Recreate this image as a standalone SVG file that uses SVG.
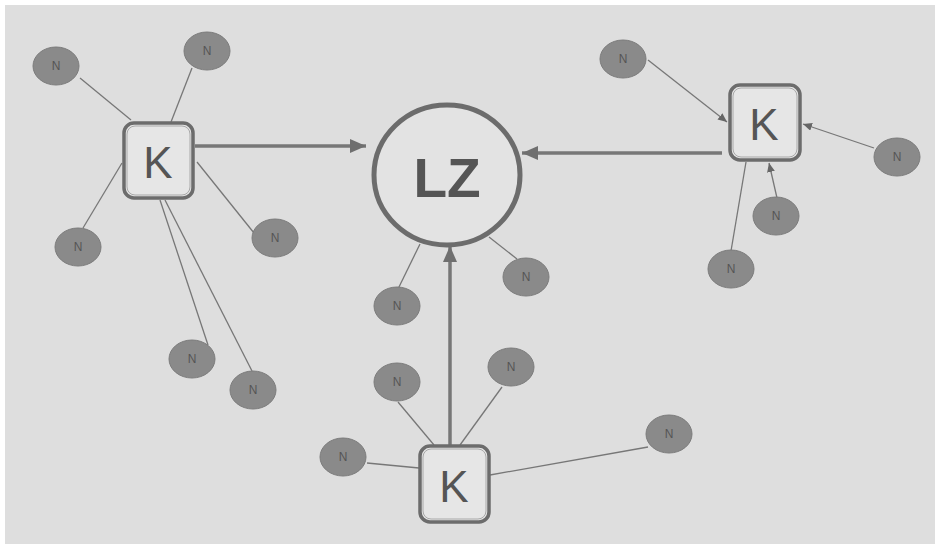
<svg xmlns="http://www.w3.org/2000/svg" width="937" height="544" viewBox="0 0 937 544">
<style>
.bg{fill:#dedede}
.n ellipse{fill:#8a8a8a;stroke:#7c7c7c;stroke-width:1}
.n text{font-family:"Liberation Sans",Arial,sans-serif;font-size:12px;fill:#555;text-anchor:middle;dominant-baseline:central}
.k rect.o{fill:#e6e6e6;stroke:#6c6c6c;stroke-width:3.5}
.k rect.i{fill:none;stroke:#a8a8a8;stroke-width:1}
.k text{font-family:"Liberation Sans",Arial,sans-serif;font-size:44px;fill:#555;text-anchor:middle;dominant-baseline:central}
.lz ellipse{fill:#e3e3e3;stroke:#6c6c6c;stroke-width:5}
.lz text{font-family:"Liberation Sans",Arial,sans-serif;font-size:55px;font-weight:bold;fill:#555;text-anchor:middle;dominant-baseline:central}
.thin{stroke:#777;stroke-width:1.3;fill:none}
.thick{stroke:#777;stroke-width:3.5;fill:none}
</style>
<defs>
<marker id="big" markerUnits="userSpaceOnUse" markerWidth="18" markerHeight="14" refX="16" refY="7" orient="auto">
<path d="M0,0 L16,7 L0,14 Z" fill="#6f6f6f"/>
</marker>
<marker id="small" markerUnits="userSpaceOnUse" markerWidth="10" markerHeight="8" refX="9" refY="4" orient="auto">
<path d="M0,0 L9,4 L0,8 Z" fill="#666"/>
</marker>
</defs>
<rect class="bg" x="5" y="5" width="930" height="539"/>
<g id="connectors">
<line class="thin" x1="80" y1="78" x2="131" y2="120"/>
<line class="thin" x1="192" y1="68" x2="171" y2="122"/>
<line class="thin" x1="83" y1="228" x2="122" y2="163"/>
<line class="thin" x1="197" y1="162" x2="254" y2="233"/>
<line class="thin" x1="160" y1="200" x2="208" y2="345"/>
<line class="thin" x1="165" y1="200" x2="252" y2="371"/>
<line class="thin" x1="398" y1="289" x2="420" y2="244"/>
<line class="thin" x1="517" y1="259" x2="489" y2="237"/>
<line class="thin" x1="648" y1="60" x2="727" y2="122" marker-end="url(#small)"/>
<line class="thin" x1="874" y1="148" x2="803" y2="124" marker-end="url(#small)"/>
<line class="thin" x1="777" y1="198" x2="769" y2="163" marker-end="url(#small)"/>
<line class="thin" x1="731" y1="251" x2="746" y2="162"/>
<line class="thin" x1="398" y1="402" x2="434" y2="445"/>
<line class="thin" x1="502" y1="387" x2="460" y2="445"/>
<line class="thin" x1="367" y1="463" x2="419" y2="468"/>
<line class="thin" x1="648" y1="447" x2="490" y2="475"/>
<line class="thick" x1="195" y1="146" x2="366" y2="146" marker-end="url(#big)"/>
<line class="thick" x1="722" y1="153" x2="522" y2="153" marker-end="url(#big)"/>
<line class="thick" x1="450" y1="446" x2="450" y2="246" marker-end="url(#big)"/>
</g>
<g id="lz" class="lz"><ellipse cx="447" cy="175" rx="73" ry="70"/><text x="447" y="178">LZ</text></g>
<g id="k1" class="k"><rect class="o" x="124" y="123" width="69" height="75" rx="10"/><rect class="i" x="127" y="126" width="63" height="69" rx="8"/><text x="158" y="162">K</text></g>
<g id="k2" class="k"><rect class="o" x="730" y="85" width="70" height="75" rx="10"/><rect class="i" x="733" y="88" width="64" height="69" rx="8"/><text x="764" y="124">K</text></g>
<g id="k3" class="k"><rect class="o" x="420" y="446" width="69" height="76" rx="10"/><rect class="i" x="423" y="449" width="63" height="70" rx="8"/><text x="454" y="486">K</text></g>
<g id="n1" class="n"><ellipse cx="56" cy="66" rx="23" ry="19"/><text x="56" y="66">N</text></g>
<g id="n2" class="n"><ellipse cx="207" cy="51" rx="23" ry="19"/><text x="207" y="51">N</text></g>
<g id="n3" class="n"><ellipse cx="78" cy="247" rx="23" ry="19"/><text x="78" y="247">N</text></g>
<g id="n4" class="n"><ellipse cx="275" cy="238" rx="23" ry="19"/><text x="275" y="238">N</text></g>
<g id="n5" class="n"><ellipse cx="192" cy="359" rx="23" ry="19"/><text x="192" y="359">N</text></g>
<g id="n6" class="n"><ellipse cx="253" cy="390" rx="23" ry="19"/><text x="253" y="390">N</text></g>
<g id="n7" class="n"><ellipse cx="397" cy="306" rx="23" ry="19"/><text x="397" y="306">N</text></g>
<g id="n8" class="n"><ellipse cx="526" cy="277" rx="23" ry="19"/><text x="526" y="277">N</text></g>
<g id="n9" class="n"><ellipse cx="623" cy="59" rx="23" ry="19"/><text x="623" y="59">N</text></g>
<g id="n10" class="n"><ellipse cx="897" cy="157" rx="23" ry="19"/><text x="897" y="157">N</text></g>
<g id="n11" class="n"><ellipse cx="776" cy="216" rx="23" ry="19"/><text x="776" y="216">N</text></g>
<g id="n12" class="n"><ellipse cx="731" cy="269" rx="23" ry="19"/><text x="731" y="269">N</text></g>
<g id="n13" class="n"><ellipse cx="397" cy="382" rx="23" ry="19"/><text x="397" y="382">N</text></g>
<g id="n14" class="n"><ellipse cx="511" cy="367" rx="23" ry="19"/><text x="511" y="367">N</text></g>
<g id="n15" class="n"><ellipse cx="343" cy="457" rx="23" ry="19"/><text x="343" y="457">N</text></g>
<g id="n16" class="n"><ellipse cx="669" cy="434" rx="23" ry="19"/><text x="669" y="434">N</text></g>
</svg>
